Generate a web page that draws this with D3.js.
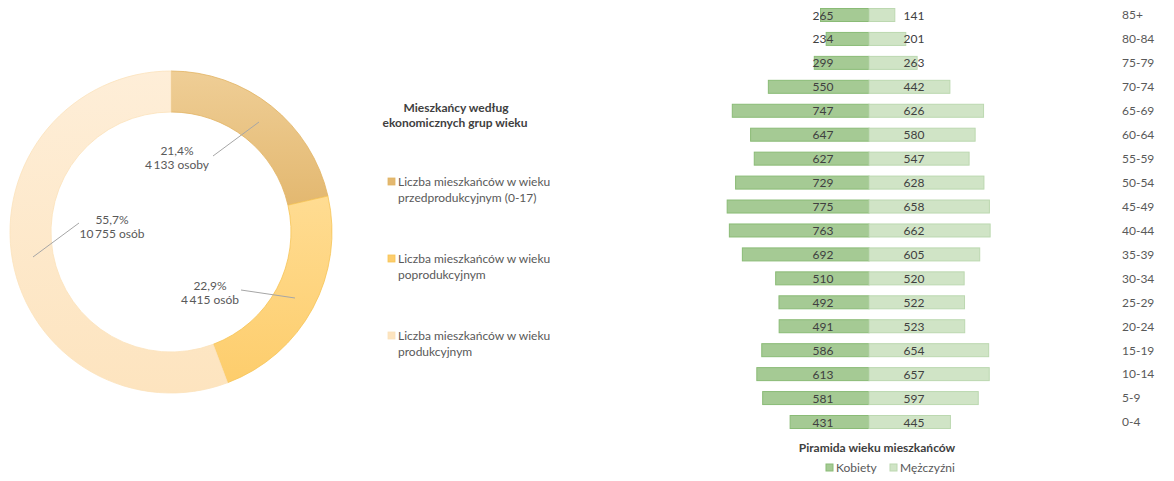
<!DOCTYPE html>
<html>
<head>
<meta charset="utf-8">
<script src="https://cdn.jsdelivr.net/npm/d3@7"></script>
<style>
  body { margin: 0; background: #fff; }
  svg { font-family: Lato, "Open Sans", sans-serif; }
</style>
</head>
<body>
<div id="chart"></div>
<script>
// donut data - economic age groups
const groupNames = [
  ["Liczba mieszkańców w wieku", "przedprodukcyjnym (0-17)"],
  ["Liczba mieszkańców w wieku", "poprodukcyjnym"],
  ["Liczba mieszkańców w wieku", "produkcyjnym"]
];
const groupCounts = [4133, 4415, 10755];
const groupPct = ["21,4%", "22,9%", "55,7%"];
const groupCountLabels = ["4\u2009133 osoby", "4\u2009415 osób", "10\u2009755 osób"];

// pyramid data (top row first)
const ageGroups = ["85+", "80-84", "75-79", "70-74", "65-69", "60-64", "55-59", "50-54", "45-49",
  "40-44", "35-39", "30-34", "25-29", "20-24", "15-19", "10-14", "5-9", "0-4"];
const women = [265, 234, 299, 550, 747, 647, 627, 729, 775, 763, 692, 510, 492, 491, 586, 613, 581, 431];
const men = [141, 201, 263, 442, 626, 580, 547, 628, 658, 662, 605, 520, 522, 523, 654, 657, 597, 445];

const W = 1174, H = 481;
const svg = d3.select("#chart").append("svg")
  .attr("width", W).attr("height", H);

const defs = svg.append("defs");
const sliceGrad = [
  ["#efce96", "#e3b870"],
  ["#ffdc92", "#fdcd6c"],
  ["#feeed8", "#fde4bf"]
];
sliceGrad.forEach((c, i) => {
  const g = defs.append("linearGradient").attr("id", "sg" + i)
    .attr("x1", 0).attr("y1", 0).attr("x2", 0).attr("y2", 1);
  g.append("stop").attr("offset", "0%").attr("stop-color", c[0]);
  g.append("stop").attr("offset", "100%").attr("stop-color", c[1]);
});
const sliceStroke = ["#e2b463", "#f6c455", "#fbe2bb"];

// 1. Donut
const donut = svg.append("g").attr("transform", "translate(171,232)");
const pie = d3.pie().sort(null).value(d => d);
const arc = d3.arc().innerRadius(120).outerRadius(161);
const arcs = pie(groupCounts);

donut.selectAll("path.slice")
  .data(arcs)
  .enter().append("path")
  .attr("class", "slice")
  .attr("d", arc)
  .attr("fill", (d, i) => `url(#sg${i})`)
  .attr("stroke", (d, i) => sliceStroke[i])
  .attr("stroke-width", 0.8);

// label positions inside the ring with leader lines into the slice
const labelPos = [[6, -77], [39, 58], [-59, -8]];
const leader = [
  [[42, -76], [88, -110]],
  [[70, 58], [124, 66]],
  [[-92, -9], [-138, 25]]
];
arcs.forEach((d, i) => {
  donut.append("polyline")
    .attr("points", leader[i].map(p => p.join(",")).join(" "))
    .attr("fill", "none")
    .attr("stroke", "#a6a6a6")
    .attr("stroke-width", 1);
  const t = donut.append("text")
    .attr("x", labelPos[i][0]).attr("y", labelPos[i][1])
    .attr("text-anchor", "middle")
    .attr("fill", "#595959")
    .style("font-size", "12px");
  t.append("tspan").attr("x", labelPos[i][0]).attr("dy", 0).text(groupPct[i]);
  t.append("tspan").attr("x", labelPos[i][0]).attr("dy", 14).text(groupCountLabels[i]);
});

// 2. Donut legend
const legend = svg.append("g");
legend.append("text")
  .attr("x", 456).attr("y", 112)
  .attr("text-anchor", "middle")
  .attr("fill", "#404040")
  .style("font-size", "12px").style("font-weight", "bold")
  .text("Mieszkańcy według");
legend.append("text")
  .attr("x", 455).attr("y", 127)
  .attr("text-anchor", "middle")
  .attr("fill", "#404040")
  .style("font-size", "12px").style("font-weight", "bold")
  .text("ekonomicznych grup wieku");

const legendY = d3.scalePoint().domain(d3.range(groupNames.length)).range([186, 340]);
groupNames.forEach((lines, i) => {
  const y = legendY(i);
  legend.append("rect")
    .attr("x", 388).attr("y", y - 8)
    .attr("width", 7).attr("height", 7)
    .attr("fill", sliceGrad[i][1])
    .attr("stroke", sliceStroke[i]).attr("stroke-width", 0.8);
  lines.forEach((s, j) => {
    legend.append("text")
      .attr("x", 398).attr("y", y + j * 16)
      .attr("fill", "#595959")
      .style("font-size", "12px")
      .text(s);
  });
});

// 3. Pyramid
const cx = 869;
const x = d3.scaleLinear().domain([0, 800]).range([0, 146.4]);
const y = d3.scalePoint().domain(ageGroups).range([15, 422]);
const barH = 13;
const pyr = svg.append("g");

pyr.selectAll("rect.women")
  .data(women)
  .enter().append("rect")
  .attr("class", "women")
  .attr("x", d => cx - x(d))
  .attr("y", (d, i) => y(ageGroups[i]) - barH / 2)
  .attr("width", d => x(d))
  .attr("height", barH)
  .attr("fill", "#a5ca94")
  .attr("stroke", "#8abb76").attr("stroke-width", 1);

pyr.selectAll("rect.men")
  .data(men)
  .enter().append("rect")
  .attr("class", "men")
  .attr("x", cx)
  .attr("y", (d, i) => y(ageGroups[i]) - barH / 2)
  .attr("width", d => x(d))
  .attr("height", barH)
  .attr("fill", "#d0e4c6")
  .attr("stroke", "#bcd8b0").attr("stroke-width", 1);

pyr.selectAll("text.wl")
  .data(women)
  .enter().append("text")
  .attr("class", "wl")
  .attr("x", cx - 46)
  .attr("y", (d, i) => y(ageGroups[i]) + 4.5)
  .attr("text-anchor", "middle")
  .attr("fill", "#404040")
  .style("font-size", "12px")
  .text(d => d);

pyr.selectAll("text.ml")
  .data(men)
  .enter().append("text")
  .attr("class", "ml")
  .attr("x", cx + 45)
  .attr("y", (d, i) => y(ageGroups[i]) + 4.5)
  .attr("text-anchor", "middle")
  .attr("fill", "#404040")
  .style("font-size", "12px")
  .text(d => d);

// age axis on the right
const yAxis = d3.axisRight(y).tickSize(0).tickPadding(0);
const ax = svg.append("g")
  .attr("transform", "translate(1122,0)")
  .call(yAxis);
ax.select(".domain").remove();
ax.selectAll("text")
  .attr("fill", "#595959")
  .style("font-size", "12px")
  .style("font-family", "Lato, sans-serif");

// title + legend
svg.append("text")
  .attr("x", 877).attr("y", 452)
  .attr("text-anchor", "middle")
  .attr("fill", "#404040")
  .style("font-size", "12px").style("font-weight", "bold")
  .text("Piramida wieku mieszkańców");

const pl = [["Kobiety", "#a5ca94", "#8abb76", 826], ["Mężczyźni", "#d0e4c6", "#bcd8b0", 890]];
pl.forEach(p => {
  svg.append("rect")
    .attr("x", p[3]).attr("y", 464)
    .attr("width", 7).attr("height", 7)
    .attr("fill", p[1]).attr("stroke", p[2]);
  svg.append("text")
    .attr("x", p[3] + 10).attr("y", 472)
    .attr("fill", "#595959")
    .style("font-size", "12px")
    .text(p[0]);
});
</script>
</body>
</html>
